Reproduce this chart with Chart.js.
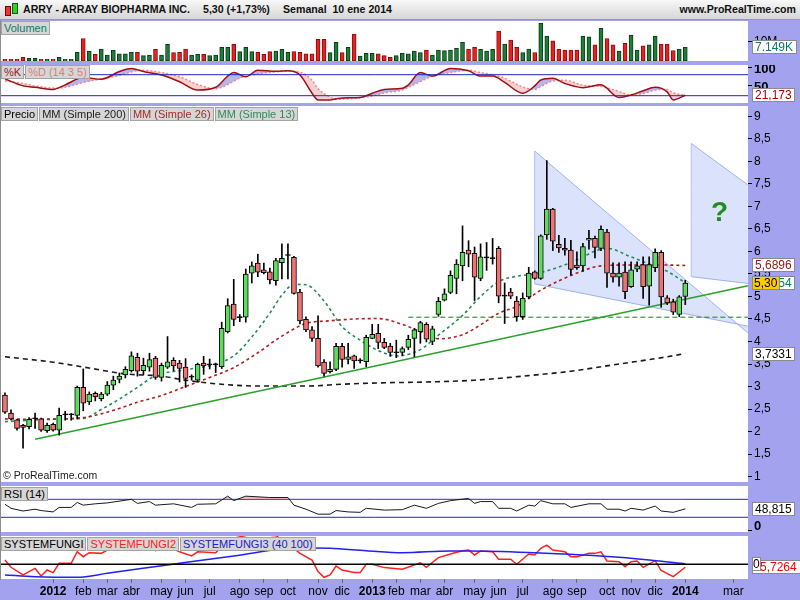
<!DOCTYPE html>
<html>
<head>
<meta charset="utf-8">
<script src="https://cdn.jsdelivr.net/npm/chart.js@4.4.1/dist/chart.umd.min.js"></script>
<style>
  body { margin: 0; width: 800px; height: 600px; background: #a2a2ef; position: relative; overflow: hidden;
         font-family: "Liberation Sans", Arial, sans-serif; }
  #head { position: absolute; left: 0; top: 0; width: 800px; height: 19px; background: linear-gradient(#f8f8f8, #d6d6d6);
          border-bottom: 1px solid #9a9a9a; font-weight: bold; font-size: 10.6px; line-height: 19px; color: #111; }
  #head span { position: absolute; top: 0; }
  canvas { position: absolute; left: 0; }
  .tags { position: absolute; left: 1px; display: flex; font-size: 11px; line-height: 12px; z-index: 2; }
  .tags span { background: #d6d6d6; border: 1px solid #a4a4a4; padding: 0 2px; margin-right: 1px; }
  #edge { position: absolute; left: 0; top: 20px; width: 1px; height: 560px; background: #8c8c8c; z-index: 3; }
  #qmark { position: absolute; left: 711px; top: 196px; font-size: 28px; font-weight: bold; color: #1f8c1f; }
  #copy { position: absolute; left: 3px; top: 469px; font-size: 10.5px; color: #222; }
</style>
</head>
<body>
<div id="head">
  <div style="position:absolute;left:5px;top:6px;width:4px;height:8px;background:#e33;border:1px solid #700"></div>
  <div style="position:absolute;left:12px;top:3px;width:4px;height:9px;background:#3c3;border:1px solid #060"></div>
  <span style="left:23px">ARRY - ARRAY BIOPHARMA INC.</span>
  <span style="left:203px">5,30 (+1,73%)</span>
  <span style="left:283px">Semanal&nbsp; 10 ene 2014</span>
  <span style="right:4px">www.ProRealTime.com</span>
</div>
<div id="edge"></div>

<canvas id="cVol" width="800" height="40" style="top:21px"></canvas>
<canvas id="cSto" width="800" height="38" style="top:65px"></canvas>
<canvas id="cPri" width="800" height="376" style="top:106px"></canvas>
<canvas id="cRsi" width="800" height="46" style="top:486px"></canvas>
<canvas id="cFun" width="800" height="64" style="top:536px"></canvas>

<div class="tags" style="top:21px"><span style="color:#0b7a66">Volumen</span></div>
<div class="tags" style="top:65px"><span style="color:#a01818">%K</span><span style="color:#e07a7a">%D (14 3 5)</span></div>
<div class="tags" style="top:107px"><span style="color:#000">Precio</span><span style="color:#222">MM (Simple 200)</span><span style="color:#a52a2a">MM (Simple 26)</span><span style="color:#2e8b57">MM (Simple 13)</span></div>
<div class="tags" style="top:487px"><span style="color:#000">RSI (14)</span></div>
<div class="tags" style="top:537px"><span style="color:#000">SYSTEMFUNGI</span><span style="color:#ff2020">SYSTEMFUNGI2</span><span style="color:#2020d0">SYSTEMFUNGI3 (40 100)</span></div>
<div id="qmark">?</div>
<div id="copy">© ProRealTime.com</div>

<script>
// weekly candles, first bar = week of 7 nov 2011, last = week of 6 ene 2014
const opens = [2.81,2.41,2.26,2.14,2.11,2.28,2.28,2.02,2.16,2.03,
  2.37,2.37,2.36,2.98,2.66,2.85,2.73,2.83,3.03,3.16,
  3.26,3.35,3.65,3.35,3.43,3.63,3.20,3.43,3.58,3.52,
  3.43,3.21,3.14,3.52,3.48,3.48,3.44,4.22,4.83,4.53,
  4.54,5.52,5.74,5.59,5.55,5.35,5.75,5.91,5.87,5.10,
  4.49,4.26,4.07,3.54,3.33,3.38,3.89,3.60,3.68,3.57,
  3.55,4.07,4.18,3.98,3.90,3.75,3.76,3.87,4.07,4.22,
  4.38,4.00,4.60,4.92,5.09,5.40,5.68,6.03,5.96,5.40,
  5.86,5.84,6.07,5.01,5.10,4.90,4.55,4.99,5.55,5.40,
  6.37,6.94,6.16,6.07,6.03,5.70,5.68,6.25,6.29,6.07,
  6.43,5.52,5.43,5.54,5.22,5.61,5.71,5.23,5.64,5.98,
  4.97,4.88,4.60,5.00];
const highs = [2.86,2.48,2.27,2.16,2.31,2.41,2.30,2.19,2.19,2.52,
  2.45,2.40,3.01,3.39,2.88,2.88,2.87,3.11,3.23,3.30,
  3.44,3.77,3.74,3.63,3.74,3.67,3.52,4.11,3.64,3.58,
  3.62,3.26,3.52,3.67,3.61,3.52,4.43,4.95,5.38,4.60,
  5.61,5.77,5.94,5.74,5.63,5.85,6.17,6.17,5.89,5.16,
  4.55,4.33,4.57,3.60,3.55,3.96,3.96,3.96,3.70,3.62,
  4.14,4.38,4.38,4.07,3.96,4.03,3.88,4.14,4.29,4.45,
  4.42,4.34,4.98,5.17,5.57,5.82,6.57,6.24,6.10,6.17,
  6.20,6.29,6.11,5.30,5.18,5.00,5.08,5.65,5.57,6.37,
  8.02,6.96,6.36,6.29,6.25,5.99,6.18,6.47,6.34,6.57,
  6.49,5.75,5.75,5.77,5.77,5.77,5.88,5.88,6.06,6.02,
  5.02,4.94,5.02,5.36];
const lows = [2.40,2.26,2.03,1.63,2.06,2.07,2.00,1.98,2.01,1.92,
  2.25,2.25,2.28,2.46,2.60,2.68,2.68,2.80,2.93,3.08,
  3.19,3.32,3.23,3.26,3.34,3.16,3.12,3.40,3.35,3.10,
  2.98,3.14,3.10,3.27,3.39,3.31,3.40,4.19,4.35,4.44,
  4.43,5.30,5.44,5.50,5.28,5.25,5.39,5.39,5.05,4.39,
  4.22,4.00,3.43,3.23,3.30,3.35,3.43,3.50,3.40,3.52,
  3.44,4.06,3.84,3.84,3.67,3.64,3.69,3.82,3.66,3.96,
  3.99,3.93,4.56,4.90,5.06,5.06,5.35,5.66,4.91,5.35,
  5.58,5.72,4.86,4.40,4.95,4.45,4.49,4.95,5.38,5.38,
  6.27,6.02,5.98,5.92,5.48,5.60,5.56,6.05,5.86,6.02,
  5.20,5.32,5.23,4.95,5.20,5.55,4.96,4.81,5.55,4.76,
  4.82,4.60,4.55,4.82];
const closes = [2.43,2.28,2.07,2.09,2.27,2.28,2.03,2.14,2.03,2.36,
  2.37,2.37,2.98,2.63,2.83,2.77,2.83,3.03,3.14,3.23,
  3.38,3.68,3.34,3.47,3.60,3.20,3.47,3.55,3.46,3.40,
  3.18,3.21,3.49,3.46,3.48,3.48,4.29,4.80,4.49,4.53,
  5.50,5.68,5.54,5.53,5.37,5.80,5.85,5.91,5.07,4.46,
  4.26,4.07,3.46,3.29,3.38,3.89,3.60,3.66,3.57,3.57,
  4.09,4.16,3.98,3.87,3.76,3.75,3.84,4.05,4.26,4.42,
  4.05,4.28,4.89,5.06,5.47,5.72,5.98,5.94,5.43,5.88,
  5.86,5.84,5.01,5.01,5.01,4.55,4.96,5.52,5.40,6.35,
  6.94,6.23,6.08,6.03,5.60,5.64,6.11,6.29,6.09,6.49,
  5.52,5.43,5.52,5.11,5.59,5.68,5.22,5.71,5.98,4.99,
  4.86,4.65,4.99,5.30];
// volume, millions
const volumes = [0.9,0.9,0.9,1.9,1.4,1.4,0.9,0.9,0.9,1.9,0.9,0.9,
  4.5,11.8,5.2,3.5,6.3,3.1,5.6,3.7,3.7,4.5,4.5,2.8,
  3.1,6.1,3.1,8.7,4.4,4.5,6.3,3.1,3.5,3.5,2.8,3.1,
  7.1,7.1,8.9,4.9,7.1,4.9,4.5,3.5,4.9,5.2,6.1,4.5,
  4.9,4.5,3.7,3.7,11.3,11.3,4.4,9.8,4.4,7.1,14.1,2.6,
  4.0,4.0,3.7,2.8,1.9,2.8,4.0,3.7,5.2,4.4,5.7,3.1,
  5.7,5.4,5.7,6.6,9.8,6.3,7.1,6.1,5.2,6.1,15.7,8.9,
  11.0,7.1,4.4,6.3,4.4,19.7,13.1,10.5,6.1,5.7,5.7,5.7,
  13.1,12.7,8.4,17.1,11.8,8.4,5.2,9.2,13.6,5.7,8.0,8.4,
  13.1,8.9,8.9,5.4,6.3,7.149];

// moving averages: [week index, value]
const ma200 = [[0,3.66],[8,3.54],[14,3.41],[20,3.28],[26,3.23],[30,3.14],[36,3.05],[42,3.01],[50,3.01],
  [56,3.05],[62,3.08],[70,3.10],[78,3.14],[86,3.23],[94,3.34],[102,3.50],[110,3.66],[113,3.7331]];
const ma26 = [[0,2.28],[6,2.27],[10,2.28],[14,2.33],[18,2.47],[22,2.65],[26,2.80],[30,3.0],[34,3.2],
  [38,3.42],[42,3.75],[46,4.12],[50,4.40],[54,4.46],[58,4.50],[62,4.51],[66,4.38],[69,4.22],[72,4.06],
  [76,4.15],[79,4.37],[82,4.63],[85,4.78],[89,5.14],[95,5.52],[99,5.68],[104,5.70],[109,5.70],[113,5.6896]];
const ma13 = [[0,2.22],[4,2.25],[8,2.28],[13,2.29],[16,2.49],[19,2.72],[22,2.98],[25,3.24],[30,3.37],
  [35,3.50],[38,3.68],[41,4.10],[44,4.63],[46,5.03],[48,5.27],[50,5.26],[53,4.90],[56,4.33],[59,4.03],
  [62,3.80],[65,3.68],[69,3.82],[72,4.14],[76,4.58],[79,5.0],[82,5.33],[85,5.45],[88,5.50],[91,5.61],
  [95,5.81],[98,6.01],[100,6.07],[104,5.88],[107,5.72],[110,5.56],[113,5.3054]];

// drawn objects on the price panel: [week index, price]
const trendLine = [[5,1.83],[123.4,5.24]];
const supportLine = [[67,4.54],[123.4,4.54]];
const wedge1Top = [[88,8.23],[123.4,4.19]];
const wedge1Bottom = [[88,5.28],[123.4,4.34]];
const wedge2Top = [[114,8.40],[123.4,7.48]];
const wedge2Bottom = [[114,5.44],[123.4,5.29]];

// stochastic, rsi, systemfungi: [week index, value]
const stochK = [[0,68],[3,48],[5,44],[8,38],[10,51],[13,72],[16,67],[19,89],[21,98],[23,89],[26,79],
  [29,60],[32,36],[35,44],[37,76],[38,86],[40,74],[42,93],[45,90],[47,91],[49,79],[51,27],[52,8],[54,8],
  [55,11],[57,14],[59,15],[61,27],[63,38],[66,41],[67,51],[69,86],[71,76],[74,98],[77,91],[79,76],
  [81,76],[83,58],[86,27],[88,48],[89,65],[91,70],[93,55],[96,43],[99,51],[102,15],[104,22],[106,34],
  [108,44],[110,31],[111,8],[113,21.173]];
const stochD = [[0,62],[3,55],[5,48],[8,42],[10,44],[13,58],[16,68],[19,78],[21,88],[23,93],[26,86],
  [29,74],[32,52],[35,40],[37,52],[39,70],[42,82],[45,88],[47,90],[49,87],[51,64],[52,40],[54,16],
  [55,10],[57,11],[59,14],[61,19],[63,28],[66,36],[67,44],[69,60],[71,76],[74,86],[77,93],[79,86],
  [81,80],[83,70],[86,45],[88,38],[89,46],[91,62],[93,64],[96,50],[99,46],[102,32],[104,22],[106,26],
  [108,36],[110,38],[111,28],[113,22]];
const rsi = [[0,59],[1,50],[3,44],[5,48],[6,45],[8,42],[9,52],[11,52],[12,63],[13,57],[15,60],[17,62],
  [21,70],[22,61],[24,65],[25,57],[28,60],[31,52],[32,59],[35,60],[37,77],[38,67],[40,77],[44,74],
  [47,74],[48,57],[50,48],[52,37],[54,37],[55,45],[57,42],[59,41],[60,50],[63,46],[66,47],[68,57],
  [70,50],[72,61],[74,67],[77,72],[78,61],[79,65],[81,65],[82,50],[84,50],[85,44],[87,57],[88,55],
  [89,67],[91,60],[93,60],[94,52],[97,60],[99,60],[100,48],[102,48],[103,44],[104,50],[106,46],
  [108,55],[109,44],[111,41],[113,48.815]];
const fungi2 = [[0,8.3],[1,-5.8],[3,-20.6],[5,-8],[6,-22.5],[7,-11],[8,-16],[9,1.9],[11,1.9],[12,24.2],
  [13,14.6],[14,22.3],[16,21],[17,27.5],[19,38],[21,45],[23,40],[25,26],[27,35],[29,24],[31,16],[32,24],
  [35,22],[36,34],[38,50],[41,58],[45,55],[47,40],[49,21],[51,8],[52,-14],[53,-25],[54,-20.6],[55,-3.3],
  [56,-11],[58,-16],[59,-16],[60,0],[61,0],[63,-6.4],[66,-9.6],[69,3],[70,-5.8],[72,12.8],[74,19.8],
  [76,26],[77,27.5],[78,17.9],[79,25.6],[81,24],[82,9.6],[84,9.6],[85,0],[87,19.8],[88,17.9],[89,30.8],
  [90,37],[91,27.5],[93,24],[94,14.6],[95,14.6],[97,21],[98,21],[99,24],[100,6.3],[102,5],[103,-4.6],
  [104,5],[105,6.3],[106,-5.8],[108,7],[109,-12],[111,-23.8],[113,-5.7264]];
const fungi3 = [[0,-20.6],[5,-23.8],[12,-25],[17,-17.3],[27,-1.3],[38,16],[49,32],[54,30.8],[60,26.2],
  [66,22.3],[74,25.6],[77,25.6],[88,22.3],[96,17.9],[102,13.5],[107,8.3],[113,0.6]];
const fungi1Last = 0;

// axis ticks
const monthTicks = [[8,'2012'],[13,'feb'],[17,'mar'],[21,'abr'],[26,'may'],[30,'jun'],[34,'jul'],[39,'ago'],
  [43,'sep'],[47,'oct'],[52,'nov'],[56,'dic'],[61,'2013'],[65,'feb'],[69,'mar'],[73,'abr'],[78,'may'],
  [82,'jun'],[86,'jul'],[91,'ago'],[95,'sep'],[100,'oct'],[104,'nov'],[108,'dic'],[113,'2014'],[121,'mar']];
const priceTicks = [1,1.5,2,2.5,3,3.5,4,4.5,5,5.5,6,6.5,7,7.5,8,8.5,9];
const volumeTicks = [10];
const stochTicks = [50,100];
const rsiTicks = [0];
const stochLevels = [20,80];
const rsiLevels = [30,70];
const fungiLevels = [0];

const X_MIN = -0.66, X_MAX = 123.42;
const FONT = '"Liberation Sans", Arial, sans-serif';
Chart.defaults.font.family = FONT;
Chart.defaults.elements.point.radius = 0;
Chart.defaults.animation = false;
Chart.defaults.events = [];
Chart.defaults.plugins.legend.display = false;
Chart.defaults.plugins.tooltip.enabled = false;

const last = closes.length - 1;
const idx = closes.map((_, i) => i);
const pts = arr => arr.map(p => ({ x: p[0], y: p[1] }));
const comma = v => String(v).replace('.', ',');
const dirColor = (i, up, down, flat) => closes[i] > opens[i] ? up : (closes[i] < opens[i] ? down : flat);
const tickLabel = new Map(monthTicks);

const panelBg = {
  id: 'panelBg',
  beforeDraw(chart) {
    const { ctx, chartArea: a } = chart;
    ctx.save();
    ctx.fillStyle = '#ffffff';
    ctx.fillRect(a.left, a.top, a.right - a.left, a.bottom - a.top);
    ctx.restore();
  }
};

function valueBoxes(boxes) {
  return {
    id: 'valueBoxes',
    afterDraw(chart) {
      const { ctx, chartArea } = chart;
      const y = chart.scales.y;
      ctx.save();
      ctx.font = '12px ' + FONT;
      ctx.textBaseline = 'middle';
      boxes.forEach(b => {
        const pad = b.pad == null ? 3 : b.pad;
        const py = Math.round(y.getPixelForValue(b.value));
        const w = Math.ceil(ctx.measureText(b.text).width) + pad * 2;
        const x = chartArea.right + 4;
        ctx.fillStyle = b.bg || '#ffffff';
        ctx.fillRect(x, py - 7, w, 14);
        ctx.strokeStyle = '#8a8a8a';
        ctx.lineWidth = 1;
        ctx.strokeRect(x + 0.5, py - 6.5, w - 1, 13);
        ctx.fillStyle = b.color;
        ctx.fillText(b.text, x + pad, py + 1);
      });
      ctx.restore();
    }
  };
}

const hiddenX = { type: 'linear', min: X_MIN, max: X_MAX, offset: false, display: false };

function rightAxis(min, max, values, label, font, labelOffset) {
  return {
    position: 'right', min, max,
    afterFit: s => { s.width = 52; s.paddingTop = 0; s.paddingBottom = 0; },
    afterBuildTicks: s => { s.ticks = values.map(v => ({ value: v })); },
    grid: { drawOnChartArea: false, tickLength: 4, color: '#000' },
    border: { display: false },
    ticks: { autoSkip: false, padding: 2, color: '#000', font, labelOffset: labelOffset || 0, callback: label }
  };
}

const line = (data, color, width, dash, extra) => Object.assign({
  type: 'line', data: pts(data), borderColor: color, borderWidth: width, borderDash: dash || [],
  pointRadius: 0, fill: false, cubicInterpolationMode: 'monotone'
}, extra || {});

// ---- volume
new Chart(document.getElementById('cVol'), {
  type: 'bar',
  data: {
    datasets: [{
      data: idx.map(i => ({ x: i, y: volumes[i] })),
      backgroundColor: idx.map(i => dirColor(i, '#1f7d3a', '#e52222', '#1f7d3a')),
      borderColor: idx.map(i => dirColor(i, '#0b3d18', '#8a0e0e', '#0b3d18')),
      borderWidth: 1, borderSkipped: false, barThickness: 4, grouped: false
    }]
  },
  options: {
    responsive: false, layout: { padding: { left: 1 } },
    scales: { x: hiddenX, y: rightAxis(0, 20.94, volumeTicks, v => v + 'M', { size: 12 }) }
  },
  plugins: [panelBg, valueBoxes([{ value: volumes[last], text: volumes[last].toFixed(3) + 'K', color: '#0b7a66' }])]
});

// ---- stochastic
new Chart(document.getElementById('cSto'), {
  type: 'line',
  data: {
    datasets: [
      line(stochK, '#a01010', 1.5, [], { order: 1 }),
      line(stochD, '#f08a8a', 1.5, [2, 2], {
        order: 2, fill: { target: 0, above: 'rgba(240,150,150,0.45)', below: 'rgba(120,120,225,0.55)' }
      }),
      ...stochLevels.map(v => line([[X_MIN, v], [X_MAX, v]], '#2424c0', 1, [], { order: 0 }))
    ]
  },
  options: {
    responsive: false, layout: { padding: { left: 1 } },
    scales: { x: hiddenX, y: rightAxis(-0.86, 107.7, stochTicks, v => String(v), { size: 13, weight: 'bold' }, 2) }
  },
  plugins: [panelBg, valueBoxes([{ value: stochK[stochK.length - 1][1], text: comma(stochK[stochK.length - 1][1]), color: '#b00000' }])]
});

// ---- price
new Chart(document.getElementById('cPri'), {
  type: 'bar',
  data: {
    datasets: [
      line(wedge1Top, 'rgba(150,172,238,0.9)', 1, [], { order: 20 }),
      line(wedge1Bottom, 'rgba(150,172,238,0.9)', 1, [], { order: 20, fill: '-1', backgroundColor: 'rgba(204,214,250,0.7)' }),
      line([wedge1Top[0], wedge1Bottom[0]], 'rgba(150,172,238,0.9)', 1, [], { order: 20 }),
      line(wedge2Top, 'rgba(150,172,238,0.9)', 1, [], { order: 20 }),
      line(wedge2Bottom, 'rgba(150,172,238,0.9)', 1, [], { order: 20, fill: '-1', backgroundColor: 'rgba(204,214,250,0.7)' }),
      line([wedge2Top[0], wedge2Bottom[0]], 'rgba(150,172,238,0.9)', 1, [], { order: 20 }),
      line(supportLine, '#1a7a1a', 1, [5, 3], { order: 6 }),
      line(ma200, '#1a1a1a', 1.6, [5, 4], { order: 5 }),
      line(ma26, '#b01e1e', 1.6, [3, 3], { order: 5 }),
      line(ma13, '#2a8a5a', 1.6, [3, 3], { order: 5 }),
      line(trendLine, '#2ca02c', 1.5, [], { order: 4 }),
      {
        type: 'bar', order: 2, grouped: false, barThickness: 1,
        data: idx.map(i => ({ x: i, y: [lows[i], highs[i]] })),
        backgroundColor: '#000'
      },
      {
        type: 'bar', order: 1, grouped: false, barThickness: 5, minBarLength: 1,
        data: idx.map(i => ({ x: i, y: [Math.min(opens[i], closes[i]), Math.max(opens[i], closes[i])] })),
        backgroundColor: idx.map(i => dirColor(i, '#5fdc5f', '#f07272', '#000')),
        borderColor: '#000', borderWidth: 1, borderSkipped: false
      }
    ]
  },
  options: {
    responsive: false, layout: { padding: { left: 1 } },
    scales: { x: hiddenX, y: rightAxis(0.878, 9.233, priceTicks, v => comma(v), { size: 12 }) }
  },
  plugins: [panelBg, valueBoxes([
    { value: ma26[ma26.length - 1][1], text: comma(ma26[ma26.length - 1][1]), color: '#a01818' },
    { value: ma13[ma13.length - 1][1], text: comma(ma13[ma13.length - 1][1]), color: '#008060' },
    { value: closes[last], text: closes[last].toFixed(2).replace('.', ','), color: '#000', bg: '#ffcc00', pad: 2 },
    { value: ma200[ma200.length - 1][1], text: comma(ma200[ma200.length - 1][1]), color: '#000' }
  ])]
});

// ---- rsi
new Chart(document.getElementById('cRsi'), {
  type: 'line',
  data: {
    datasets: [
      line(rsi, '#1a1a1a', 1, [], {
        cubicInterpolationMode: 'default',
        fill: { target: { value: 70 }, above: 'rgba(235,150,150,0.6)', below: 'rgba(0,0,0,0)' }
      }),
      ...rsiLevels.map(v => line([[X_MIN, v], [X_MAX, v]], '#2424c0', 1))
    ]
  },
  options: {
    responsive: false, layout: { padding: { left: 1 } },
    scales: { x: hiddenX, y: rightAxis(-2.67, 99.6, rsiTicks, v => String(v), { size: 13, weight: 'bold' }, -4) }
  },
  plugins: [panelBg, valueBoxes([{ value: rsi[rsi.length - 1][1], text: comma(rsi[rsi.length - 1][1]), color: '#000' }])]
});

// ---- systemfungi + time axis
new Chart(document.getElementById('cFun'), {
  type: 'line',
  data: {
    datasets: [
      ...fungiLevels.map(v => line([[X_MIN, v], [X_MAX, v]], '#000', 1.5)),
      line(fungi3, '#2020f0', 1.5),
      line(fungi2, '#ff2020', 1.5, [], { cubicInterpolationMode: 'default' })
    ]
  },
  options: {
    responsive: false, layout: { padding: { left: 1 } },
    scales: {
      x: {
        type: 'linear', min: X_MIN, max: X_MAX, offset: false, position: 'bottom',
        afterBuildTicks: s => { s.ticks = monthTicks.map(t => ({ value: t[0] })); },
        afterFit: s => { s.height = 21; s.paddingLeft = 0; s.paddingRight = 0; },
        grid: { drawOnChartArea: false, tickLength: 4, color: '#6a6a6a' },
        border: { display: false },
        ticks: {
          autoSkip: false, maxRotation: 0, padding: 1, color: '#000',
          callback: v => tickLabel.get(v),
          font: c => ({ size: 12, weight: /^\d{4}$/.test(tickLabel.get(c.tick && c.tick.value) || '') ? 'bold' : 'normal' })
        }
      },
      y: rightAxis(-28.3, 54.4, [], v => '', { size: 12 })
    }
  },
  plugins: [panelBg, valueBoxes([
    { value: fungi2[fungi2.length - 1][1], text: comma(fungi2[fungi2.length - 1][1]), color: '#ff0000', pad: 4 },
    { value: fungi1Last, text: String(fungi1Last), color: '#000', pad: 1 }
  ])]
});
</script>
</body>
</html>
